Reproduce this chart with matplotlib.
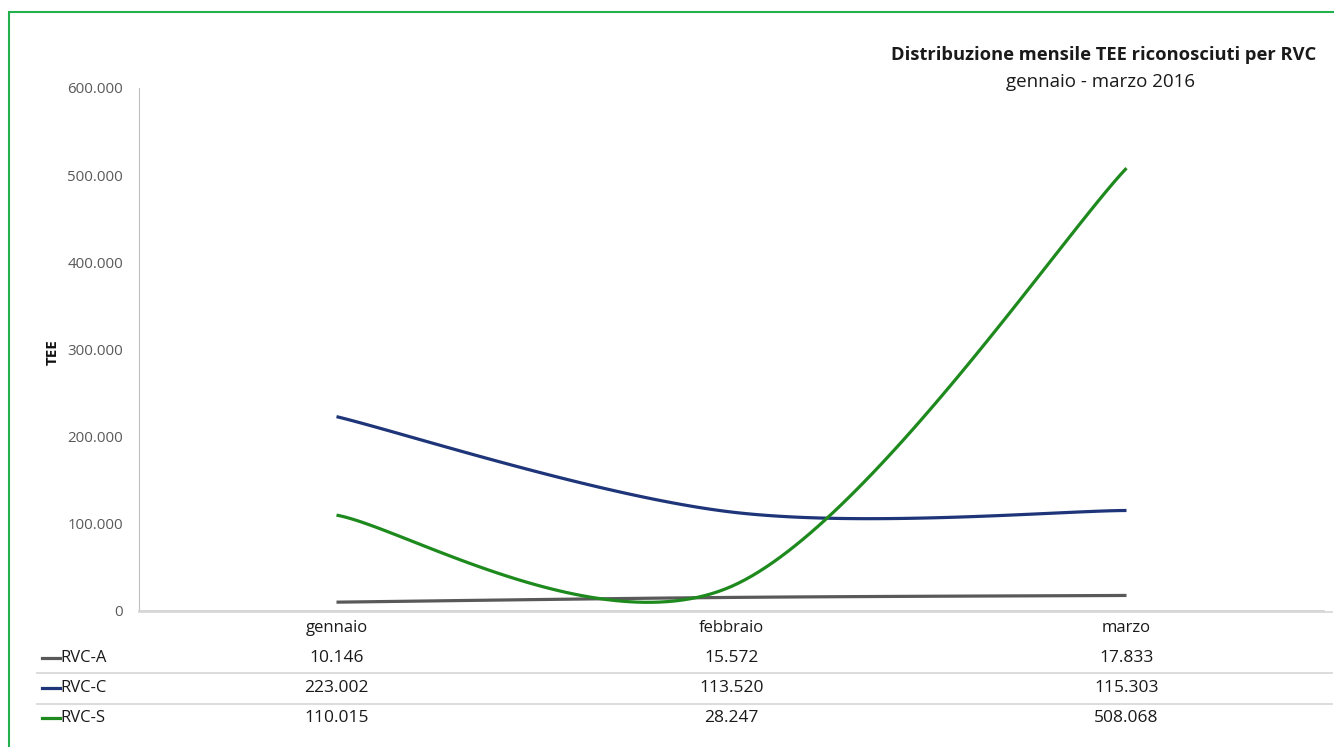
import matplotlib.pyplot as plt
import matplotlib.transforms as mtransforms
from matplotlib.lines import Line2D
from matplotlib.patches import Rectangle
import numpy as np

plt.rcParams['font.family'] = ['Open Sans', 'DejaVu Sans']

months = ['gennaio', 'febbraio', 'marzo']
series_names = ['RVC-A', 'RVC-C', 'RVC-S']
rvc_a = [10146, 15572, 17833]
rvc_c = [223002, 113520, 115303]
rvc_s = [110015, 28247, 508068]
yticks = [0, 100000, 200000, 300000, 400000, 500000, 600000]

colors = ['#595959', '#1f3579', '#1e8a1e']
W, H = 1334, 747


def fmt(v):
    return '{:,}'.format(v).replace(',', '.')


def smooth(xs, ys, n=60):
    # excel-like smoothed line: cubic bezier through points
    p = np.column_stack([xs, ys]).astype(float)
    ext = np.vstack([p[0], p, p[-1]])
    out = []
    t = np.linspace(0, 1, n)[:, None]
    for i in range(len(p) - 1):
        p0, p3 = ext[i + 1], ext[i + 2]
        c1 = p0 + (ext[i + 2] - ext[i]) / 6
        c2 = p3 - (ext[i + 3] - ext[i + 1]) / 6
        seg = (1 - t) ** 3 * p0 + 3 * (1 - t) ** 2 * t * c1 + 3 * (1 - t) * t ** 2 * c2 + t ** 3 * p3
        out.append(seg)
    out = np.vstack(out)
    return out[:, 0], out[:, 1]


fig = plt.figure(figsize=(W / 100, H / 100), dpi=100)
ax = fig.add_axes([139 / W, 1 - 611 / H, (1324 - 139) / W, (611 - 88) / H])

x = np.arange(len(months)) + 0.5
for vals, c in zip([rvc_a, rvc_c, rvc_s], colors):
    sx, sy = smooth(x, vals)
    ax.plot(sx, sy, color=c, lw=2.3, solid_capstyle='butt')

ax.set_xlim(0, len(months))
ax.set_ylim(0, 600000)
ax.set_yticks(yticks)
ax.set_yticklabels([fmt(v) for v in yticks], color='#595959', fontsize=10.8)
ax.set_xticks([])
ax.tick_params(axis='y', length=0, pad=11.5)
for s in ['top', 'right']:
    ax.spines[s].set_visible(False)
ax.spines['left'].set_color('#bfbfbf')
ax.spines['bottom'].set_color('#d0d0d0')
ax.spines['bottom'].set_linewidth(1.2)
ax.set_ylabel('TEE', fontweight='bold', fontsize=11, color='#111111')
ax.yaxis.set_label_coords((60 - 139) / (1324 - 139), (611 - 352) / (611 - 88))

# data table under the axis
tr = mtransforms.blended_transform_factory(ax.transData, fig.transFigure)
fy = lambda py: 1 - py / H
for xi, m in zip(x, months):
    fig.text(xi, fy(628), m, transform=tr, ha='center', va='center', fontsize=12, color='#1a1a1a')
row_y = [658, 688, 718]
for name, vals, c, ry in zip(series_names, [rvc_a, rvc_c, rvc_s], colors, row_y):
    fig.add_artist(Line2D([42 / W, 60 / W], [fy(ry), fy(ry)], color=c, lw=2.3))
    fig.text(60 / W, fy(ry), name, ha='left', va='center', fontsize=12, color='#1a1a1a')
    for xi, v in zip(x, vals):
        fig.text(xi, fy(ry), fmt(v), transform=tr, ha='center', va='center', fontsize=12.5, color='#1a1a1a')
for ly in [612, 673, 704]:
    x0 = 139 if ly == 612 else 37
    fig.add_artist(Line2D([x0 / W, 1332 / W], [fy(ly), fy(ly)], color='#d9d9d9', lw=1.3))

fig.text(1316 / W, fy(55), 'Distribuzione mensile TEE riconosciuti per RVC', ha='right', va='center',
         fontsize=13.2, fontweight='bold', color='#1a1a1a')
fig.text(1101 / W, fy(82), 'gennaio - marzo 2016', ha='center', va='center', fontsize=13.5, color='#1a1a1a')

# green frame: only top and left edges visible
fig.add_artist(Rectangle((9 / W, -0.01), 1.0, fy(12) + 0.01, fill=False,
                         edgecolor='#22b14c', lw=1.5, transform=fig.transFigure))

fig.savefig('out.png', dpi=100)
